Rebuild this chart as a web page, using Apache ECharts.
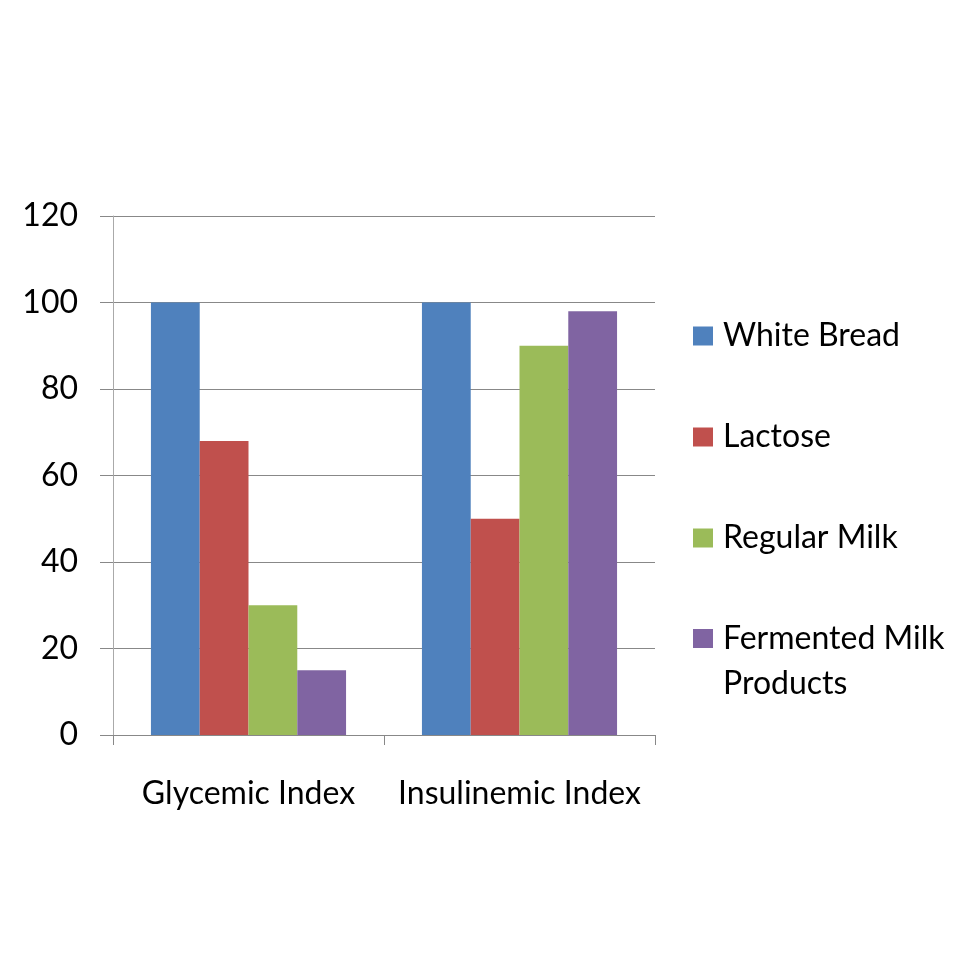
<!DOCTYPE html>
<html>
<head>
<meta charset="utf-8">
<script src="https://cdn.jsdelivr.net/npm/echarts@6/dist/echarts.min.js"></script>
<style>html,body{margin:0;padding:0;background:#fff}#c{width:980px;height:980px}</style>
</head>
<body>
<div id="c"></div>
<script>
const categories = ['Glycemic Index', 'Insulinemic Index'];
const seriesNames = ['White Bread', 'Lactose', 'Regular Milk', 'Fermented Milk Products'];
const whiteBread = [100, 100];
const lactose = [68, 50];
const regularMilk = [30, 90];
const fermentedMilk = [15, 98];
const colors = ['#4F81BD', '#C0504D', '#9BBB59', '#8064A2'];
const FONT = 'Lato';
const FS = 32;

const values = [whiteBread, lactose, regularMilk, fermentedMilk];
const chart = echarts.init(document.getElementById('c'));
const gray = '#888888';
const legendCommon = {
  orient: 'vertical', left: 693, padding: 0, icon: 'rect',
  itemWidth: 20, itemHeight: 19,
  textStyle: { fontFamily: FONT, fontSize: FS, color: '#000', padding: [0, 0, 0, 5] },
  selectedMode: false
};
chart.setOption({
  animation: false,
  color: colors,
  grid: { left: 113, right: 325, top: 216, bottom: 245 },
  legend: [
    Object.assign({}, legendCommon, {
      top: 316, itemGap: 61,
      data: seriesNames.slice(0, 3),
      textStyle: Object.assign({}, legendCommon.textStyle, { lineHeight: 40 })
    }),
    Object.assign({}, legendCommon, {
      top: 571, data: [seriesNames[3]],
      formatter: function () { return ' \nFermented Milk\nProducts'; },
      textStyle: Object.assign({}, legendCommon.textStyle, { lineHeight: 45 })
    })
  ],
  xAxis: {
    type: 'category', data: categories,
    axisLine: { lineStyle: { color: gray, width: 1 } },
    axisTick: { show: true, length: 10, lineStyle: { color: gray } },
    axisLabel: { fontFamily: FONT, fontSize: FS, color: '#000', margin: 43, interval: 0, hideOverlap: false }
  },
  yAxis: {
    type: 'value', min: 0, max: 120, interval: 20,
    axisLine: { show: true, lineStyle: { color: '#aaaaaa', width: 1 } },
    axisTick: { show: true, length: 13, lineStyle: { color: gray } },
    splitLine: { lineStyle: { color: gray, width: 1 } },
    axisLabel: { fontFamily: FONT, fontSize: FS, color: '#000', margin: 35 }
  },
  series: seriesNames.map((n, i) => ({
    name: n, type: 'bar', data: values[i],
    barGap: '0%', barCategoryGap: '28%',
    itemStyle: { color: colors[i] }
  }))
});
</script>
</body>
</html>
